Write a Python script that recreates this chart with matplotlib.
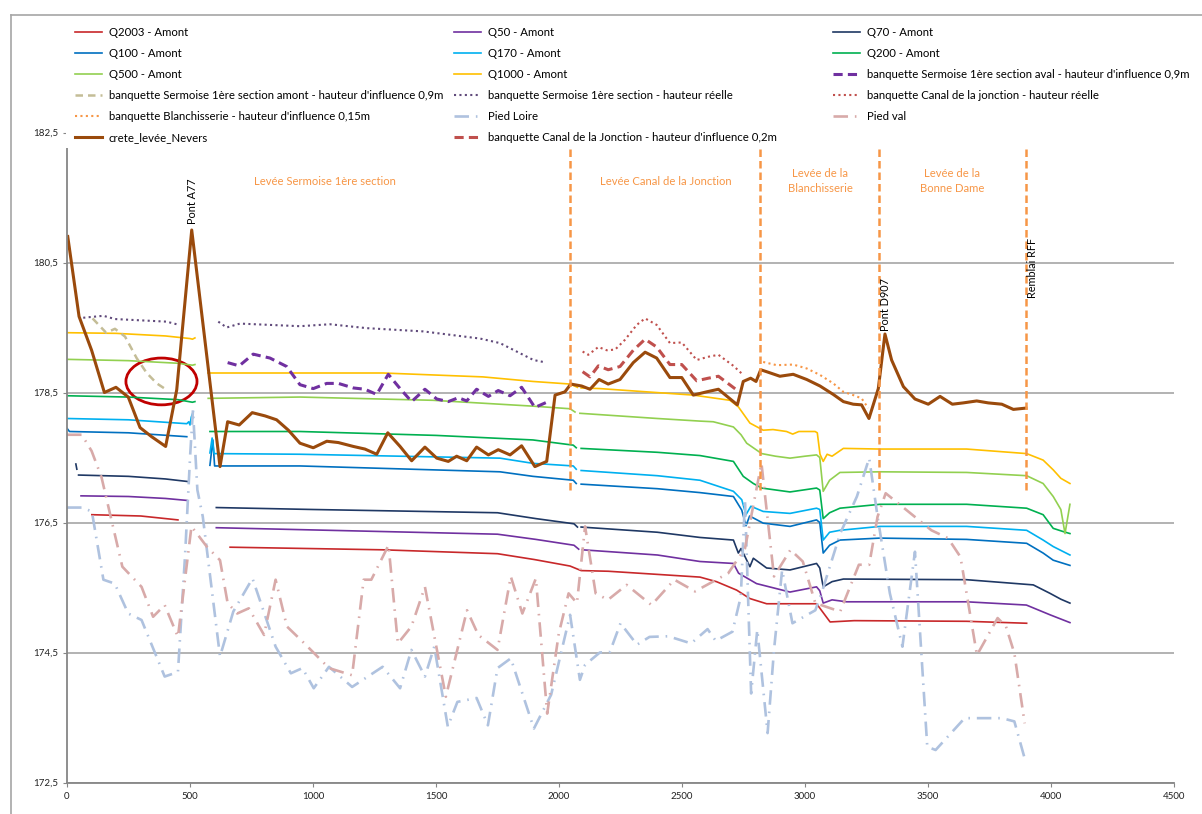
import numpy as np
import matplotlib
matplotlib.use("Agg")
import matplotlib.pyplot as plt
from matplotlib.lines import Line2D
from matplotlib.patches import Ellipse, Rectangle
from matplotlib.ticker import MultipleLocator, FuncFormatter

plt.rcParams['font.family'] = ['Lato', 'DejaVu Sans']
nan = np.nan

# --- débits (lignes d'eau), x = distance (m), y = cote (m NGF) ---
q2003_x = [101, 300, 451, nan, 663, 1283, 1750, 1900, 2045, 2090, 2200, 2573, 2640, 2722, 2776, 2844, 3047, 3102, 3200, 3657, 3901]
q2003_y = [176.62, 176.60, 176.54, nan, 176.12, 176.08, 176.02, 175.93, 175.83, 175.76, 175.75, 175.66, 175.59, 175.46, 175.33, 175.25, 175.25, 174.97, 174.99, 174.98, 174.95]

q50_x = [57, 250, 400, 487, nan, 607, 1750, 1906, 2061, 2080, nan, 2095, 2400, 2573, 2709, 2730, 2803, 2939, 3047, 3060, 3074, 3110, 3169, 3657, 3900, 3996, 4077]
q50_y = [176.91, 176.90, 176.87, 176.84, nan, 176.42, 176.32, 176.24, 176.15, 176.09, nan, 176.08, 176.00, 175.90, 175.87, 175.72, 175.56, 175.43, 175.51, 175.45, 175.26, 175.31, 175.28, 175.28, 175.23, 175.08, 174.96]

q70_x = [36, 40, nan, 47, 250, 400, 492, nan, 607, 1000, 1750, 1906, 2061, 2075, nan, 2090, 2400, 2573, 2709, 2729, 2740, 2776, 2790, 2844, 2939, 3047, 3060, 3074, 3110, 3156, 3657, 3928, 3996, 4040, 4077]
q70_y = [177.40, 177.32, nan, 177.23, 177.21, 177.17, 177.13, nan, 176.73, 176.70, 176.65, 176.56, 176.48, 176.43, nan, 176.43, 176.35, 176.27, 176.23, 176.03, 176.10, 175.82, 175.95, 175.80, 175.77, 175.87, 175.80, 175.51, 175.59, 175.63, 175.62, 175.54, 175.41, 175.32, 175.26]

q100_x = [0, 10, 250, 487, nan, 581, 593, 600, 947, 1760, 1894, 2058, 2070, nan, 2090, 2400, 2573, 2709, 2743, 2760, 2775, 2830, 2939, 3047, 3060, 3074, 3100, 3142, 3305, 3657, 3901, 3968, 4009, 4077]
q100_y = [177.95, 177.90, 177.88, 177.82, nan, 177.38, 177.77, 177.37, 177.37, 177.28, 177.21, 177.15, 177.10, nan, 177.09, 177.02, 176.96, 176.90, 176.69, 176.45, 176.60, 176.49, 176.44, 176.54, 176.50, 176.03, 176.15, 176.23, 176.26, 176.24, 176.18, 176.03, 175.92, 175.84]

q170_x = [0, 250, 487, 495, 500, 505, 513, nan, 581, 590, 598, 947, 1760, 1894, 2058, 2070, nan, 2090, 2400, 2573, 2709, 2743, 2760, 2780, 2830, 2939, 3047, 3060, 3074, 3100, 3142, 3305, 3657, 3901, 3968, 4009, 4077]
q170_y = [178.10, 178.08, 178.02, 178.05, 178.00, 178.12, 178.20, nan, 177.57, 177.80, 177.56, 177.55, 177.49, 177.41, 177.37, 177.32, nan, 177.30, 177.22, 177.15, 176.98, 176.85, 176.62, 176.75, 176.67, 176.64, 176.72, 176.70, 176.23, 176.35, 176.38, 176.44, 176.44, 176.38, 176.23, 176.13, 176.00]

q200_x = [0, 250, 450, 510, 520, nan, 581, 947, 1500, 1894, 2058, 2070, nan, 2090, 2400, 2573, 2709, 2749, 2790, 2824, 2939, 3047, 3060, 3074, 3100, 3142, 3305, 3657, 3901, 3968, 4009, 4050, 4077]
q200_y = [178.45, 178.43, 178.39, 178.35, 178.36, nan, 177.90, 177.90, 177.84, 177.77, 177.69, 177.65, nan, 177.64, 177.58, 177.53, 177.44, 177.21, 177.10, 177.03, 176.97, 177.03, 177.00, 176.56, 176.65, 176.72, 176.78, 176.78, 176.72, 176.62, 176.41, 176.36, 176.33]

q500_x = [0, 250, 450, 510, 520, nan, 574, 947, 1488, 1894, 2045, 2065, nan, 2085, 2400, 2573, 2627, 2709, 2740, 2763, 2824, 2880, 2939, 3000, 3047, 3060, 3074, 3100, 3142, 3305, 3657, 3901, 3968, 4009, 4040, 4057, 4077]
q500_y = [179.01, 178.99, 178.95, 178.92, 178.93, nan, 178.41, 178.43, 178.38, 178.29, 178.25, 178.20, nan, 178.18, 178.10, 178.06, 178.05, 177.97, 177.85, 177.72, 177.56, 177.52, 177.49, 177.52, 177.54, 177.50, 176.98, 177.15, 177.27, 177.28, 177.27, 177.22, 177.10, 176.90, 176.70, 176.33, 176.78]

q1000_x = [0, 200, 400, 500, 510, 520, nan, 573, 947, 1285, 1691, 1894, 2045, 2075, nan, 2090, 2167, 2546, 2695, 2729, 2776, 2830, 2870, 2925, 2950, 2975, 3041, 3050, 3061, 3074, 3090, 3110, 3156, 3305, 3657, 3901, 3968, 4009, 4040, 4077]
q1000_y = [179.42, 179.41, 179.37, 179.33, 179.32, 179.34, nan, 178.80, 178.80, 178.80, 178.74, 178.67, 178.63, 178.58, nan, 178.57, 178.56, 178.46, 178.38, 178.28, 178.03, 177.92, 177.93, 177.90, 177.86, 177.90, 177.90, 177.88, 177.55, 177.44, 177.55, 177.52, 177.64, 177.63, 177.63, 177.56, 177.46, 177.31, 177.18, 177.10]

# --- banquettes ---
banq_aval_x = [653, 700, 757, 825, 893, 947, 1001, 1056, 1103, 1164, 1211, 1259, 1306, 1354, 1401, 1455, 1503, 1550, 1591, 1625, 1665, 1713, 1753, 1801, 1848, 1902, 1950]
banq_aval_y = [178.96, 178.91, 179.09, 179.03, 178.90, 178.62, 178.56, 178.64, 178.64, 178.57, 178.55, 178.47, 178.78, 178.56, 178.36, 178.55, 178.40, 178.36, 178.42, 178.37, 178.55, 178.44, 178.53, 178.45, 178.58, 178.27, 178.35]

banq_amont_x = [104, 159, 195, 236, 283, 324, 365, 401]
banq_amont_y = [179.64, 179.42, 179.48, 179.36, 179.03, 178.80, 178.64, 178.55]

banq_reelle_x = [66, 148, 195, 405, 446, nan, 615, 649, 703, 947, 1069, 1218, 1448, 1679, 1760, 1896, 1936]
banq_reelle_y = [179.65, 179.68, 179.63, 179.59, 179.55, nan, 179.59, 179.50, 179.56, 179.52, 179.55, 179.49, 179.44, 179.33, 179.26, 179.00, 178.97]

canal_reelle_x = [2096, 2119, 2160, 2194, 2228, 2268, 2316, 2350, 2397, 2451, 2499, 2560, 2607, 2648, 2709, 2749]
canal_reelle_y = [179.13, 179.08, 179.20, 179.15, 179.16, 179.31, 179.54, 179.64, 179.54, 179.26, 179.27, 179.00, 179.05, 179.08, 178.91, 178.77]

canal_infl_x = [2096, 2126, 2160, 2200, 2248, 2302, 2350, 2397, 2451, 2499, 2560, 2607, 2648, 2722]
canal_infl_y = [178.82, 178.74, 178.91, 178.85, 178.90, 179.15, 179.32, 179.20, 178.93, 178.93, 178.68, 178.72, 178.75, 178.54]

blanch_x = [2830, 2885, 2952, 3007, 3061, 3115, 3156, 3196, 3230, 3257]
blanch_y = [178.97, 178.92, 178.93, 178.87, 178.77, 178.64, 178.51, 178.46, 178.41, 178.26]

# --- pieds de digue ---
pied_loire_x = [0, 60, 101, 148, 194, 249, 303, 397, 451, 480, 501, 512, 530, 552, 622, 676, 754, 848, 910, 957, 1003, 1065, 1159, 1283, 1354, 1400, 1455, 1493, 1548, 1587, 1665, 1711, 1750, 1804, 1898, 1968, 2045, 2085, 2106, 2166, 2207, 2250, 2317, 2368, 2444, 2537, 2604, 2637, 2705, 2739, 2756, 2781, 2806, 2848, 2874, 2907, 2949, 3042, 3067, 3143, 3211, 3261, 3295, 3345, 3396, 3447, 3497, 3531, 3649, 3800, 3851, 3893]
pied_loire_y = [176.73, 176.73, 176.67, 175.62, 175.56, 175.10, 175.00, 174.13, 174.20, 176.00, 177.56, 178.23, 177.00, 176.59, 174.44, 175.13, 175.64, 174.59, 174.18, 174.26, 173.95, 174.28, 173.97, 174.28, 173.95, 174.54, 174.13, 174.59, 173.36, 173.74, 173.80, 173.38, 174.26, 174.41, 173.33, 173.85, 175.08, 174.08, 174.31, 174.50, 174.51, 174.95, 174.62, 174.74, 174.75, 174.64, 174.86, 174.68, 174.82, 175.36, 176.85, 173.87, 174.85, 173.26, 174.54, 175.77, 174.95, 175.15, 175.41, 176.33, 176.90, 177.49, 176.59, 175.41, 174.59, 176.05, 173.05, 173.00, 173.49, 173.49, 173.44, 172.87]

pied_val_x = [0, 60, 100, 140, 225, 303, 350, 397, 451, 506, 568, 622, 653, 692, 739, 801, 848, 894, 957, 1065, 1159, 1206, 1237, 1307, 1345, 1400, 1455, 1540, 1626, 1672, 1750, 1804, 1851, 1906, 1952, 1999, 2039, 2073, 2106, 2149, 2199, 2275, 2376, 2469, 2553, 2688, 2756, 2823, 2874, 2941, 2991, 3042, 3143, 3219, 3261, 3295, 3328, 3413, 3514, 3581, 3632, 3699, 3783, 3817, 3851, 3893]
pied_val_y = [177.85, 177.85, 177.60, 177.20, 175.82, 175.51, 175.05, 175.23, 174.74, 176.44, 176.13, 175.92, 175.26, 175.10, 175.18, 174.77, 175.62, 174.90, 174.67, 174.26, 174.15, 175.62, 175.62, 176.15, 174.64, 174.90, 175.51, 173.82, 175.15, 174.77, 174.54, 175.67, 175.10, 175.64, 173.56, 174.79, 175.41, 175.26, 176.44, 175.41, 175.31, 175.54, 175.23, 175.62, 175.44, 175.72, 176.10, 177.41, 175.67, 176.08, 175.90, 175.26, 175.13, 175.85, 175.85, 176.59, 176.95, 176.69, 176.38, 176.26, 175.97, 174.46, 175.03, 174.90, 174.49, 173.41]

# --- crête de levée ---
crete_x = [3, 49, 100, 152, 199, 249, 297, 344, 401, 446, 507, 622, 653, 700, 753, 805, 852, 900, 947, 1001, 1056, 1103, 1164, 1211, 1259, 1304, 1354, 1401, 1455, 1503, 1550, 1584, 1625, 1665, 1713, 1753, 1801, 1848, 1902, 1950, 1984, 2024, 2048, 2092, 2126, 2163, 2200, 2248, 2302, 2350, 2397, 2451, 2499, 2546, 2600, 2648, 2725, 2749, 2779, 2801, 2820, 2844, 2898, 2952, 3007, 3061, 3115, 3156, 3196, 3230, 3260, 3298, 3325, 3352, 3400, 3447, 3501, 3549, 3599, 3643, 3698, 3745, 3800, 3847, 3898]
crete_y = [180.90, 179.67, 179.15, 178.50, 178.58, 178.43, 177.96, 177.82, 177.67, 178.54, 181.00, 177.36, 178.05, 178.00, 178.19, 178.14, 178.08, 177.92, 177.72, 177.65, 177.75, 177.73, 177.67, 177.63, 177.55, 177.88, 177.67, 177.45, 177.66, 177.49, 177.44, 177.52, 177.45, 177.66, 177.54, 177.62, 177.54, 177.68, 177.36, 177.44, 178.46, 178.51, 178.63, 178.60, 178.55, 178.70, 178.63, 178.70, 178.96, 179.12, 179.03, 178.73, 178.73, 178.46, 178.51, 178.55, 178.31, 178.67, 178.72, 178.67, 178.85, 178.82, 178.75, 178.78, 178.70, 178.60, 178.47, 178.36, 178.32, 178.31, 178.10, 178.56, 179.40, 179.00, 178.59, 178.40, 178.32, 178.44, 178.32, 178.34, 178.37, 178.34, 178.32, 178.24, 178.26]

# limites de tronçons
sections_x = [2046, 2819, 3300, 3898]
section_names = ["Levée Sermoise 1ère section", "Levée Canal de la Jonction",
                 "Levée de la\nBlanchisserie", "Levée de la\nBonne Dame"]
section_name_x = [1049, 2435, 3061, 3598]
ouvrages = ["Pont A77", "Pont D907", "Remblai RFF"]
ouvrages_x = [510, 3328, 3923]
ouvrages_y = [181.1, 179.45, 179.95]

W, H = 1202, 814
fig = plt.figure(figsize=(W / 100, H / 100), dpi=100)
y_top = 184.0
ax = fig.add_axes([67 / W, 31.5 / H, (1174 - 67) / W, (y_top - 172.5) * 65 / H])
ax.set_xlim(0, 4500)
ax.set_ylim(172.5, y_top)

pied_dash = (5.5, 2.6, 0.6, 2.6)
dot = (1, 1.6)
lines = {}
def plot(label, x, y, **kw):
    lines[label], = ax.plot(x, y, label=label, **kw)

qw = 1.2
plot("Q2003 - Amont", q2003_x, q2003_y, color="#C8282A", lw=qw)
plot("Q50 - Amont", q50_x, q50_y, color="#7030A0", lw=qw)
plot("Q70 - Amont", q70_x, q70_y, color="#1F3864", lw=qw)
plot("Q100 - Amont", q100_x, q100_y, color="#0070C0", lw=qw)
plot("Q170 - Amont", q170_x, q170_y, color="#00B0F0", lw=qw)
plot("Q200 - Amont", q200_x, q200_y, color="#00B050", lw=qw)
plot("Q500 - Amont", q500_x, q500_y, color="#92D050", lw=qw)
plot("Q1000 - Amont", q1000_x, q1000_y, color="#FFC000", lw=qw)
plot("Pied Loire", pied_loire_x, pied_loire_y, color="#AFC2DF", lw=1.9, dashes=pied_dash)
plot("Pied val", pied_val_x, pied_val_y, color="#D8AAA9", lw=1.9, dashes=pied_dash)
plot("banquette Sermoise 1ère section aval - hauteur d'influence 0,9m", banq_aval_x, banq_aval_y,
     color="#7030A0", lw=2.2, dashes=(3, 1.7))
plot("banquette Sermoise 1ère section amont - hauteur d'influence 0,9m", banq_amont_x, banq_amont_y,
     color="#C4BD97", lw=1.8, dashes=(3, 2))
plot("banquette Sermoise 1ère section - hauteur réelle", banq_reelle_x, banq_reelle_y,
     color="#604A7B", lw=1.5, dashes=dot)
plot("banquette Canal de la jonction - hauteur réelle", canal_reelle_x, canal_reelle_y,
     color="#C0504D", lw=1.5, dashes=dot)
plot("banquette Blanchisserie - hauteur d'influence 0,15m", blanch_x, blanch_y,
     color="#F79646", lw=1.5, dashes=dot)
plot("banquette Canal de la Jonction - hauteur d'influence 0,2m", canal_infl_x, canal_infl_y,
     color="#C0504D", lw=2.2, dashes=(3, 1.7))
plot("crete_levée_Nevers", crete_x, crete_y, color="#9A4A0C", lw=2.2)

for sx in sections_x:
    ax.plot([sx, sx], [177.0, 182.25], color="#F79646", lw=1.8, dashes=(3, 1.6))
for name, nx in zip(section_names, section_name_x):
    ax.text(nx, 181.75, name, color="#F79646", ha="center", va="center",
            fontsize=8.1, multialignment="center", linespacing=1.45)
for name, ox, oy in zip(ouvrages, ouvrages_x, ouvrages_y):
    ax.text(ox, oy, name, rotation=90, ha="center", va="bottom", fontsize=7.8, color="black")

ax.add_patch(Ellipse((384, 178.67), 289, 0.72, fill=False, edgecolor="#C00000", lw=2))

# axes à la Excel
for s in ["top", "right"]:
    ax.spines[s].set_visible(False)
for s in ["left", "bottom"]:
    ax.spines[s].set_color("#868686")
    ax.spines[s].set_linewidth(1.3)
ax.xaxis.set_major_locator(MultipleLocator(500))
ax.set_yticks([172.5, 174.5, 176.5, 178.5, 180.5, 182.5])
ax.yaxis.set_major_formatter(FuncFormatter(lambda v, p: f"{v:.1f}".replace(".", ",")))
ax.tick_params(direction="out", length=3, color="#868686", labelsize=7, labelcolor="#222222")
ax.grid(axis="y", color="#A6A6A6", lw=1.2)
ax.set_axisbelow(True)

# fond blanc de la légende
ax.add_patch(Rectangle((66 / W, 1 - 148 / H), 1, (148 - 17) / H, transform=fig.transFigure,
                       facecolor="white", edgecolor="none", clip_on=False, zorder=4))

legend_cols = [
    ["Q2003 - Amont", "Q100 - Amont", "Q500 - Amont",
     "banquette Sermoise 1ère section amont - hauteur d'influence 0,9m",
     "banquette Blanchisserie - hauteur d'influence 0,15m", "crete_levée_Nevers"],
    ["Q50 - Amont", "Q170 - Amont", "Q1000 - Amont",
     "banquette Sermoise 1ère section - hauteur réelle", "Pied Loire",
     "banquette Canal de la Jonction - hauteur d'influence 0,2m"],
    ["Q70 - Amont", "Q200 - Amont",
     "banquette Sermoise 1ère section aval - hauteur d'influence 0,9m",
     "banquette Canal de la jonction - hauteur réelle", "Pied val"],
]
legend_x = [75, 454, 833]
legs = []
for labels, lx in zip(legend_cols, legend_x):
    leg = ax.legend([lines[l] for l in labels], labels, loc="upper left",
                    bbox_to_anchor=(lx / W, 1 - 27 / H), bbox_transform=fig.transFigure,
                    frameon=False, borderpad=0, borderaxespad=0, handlelength=2.4,
                    handletextpad=0.55, labelspacing=0.88, fontsize=8.2)
    legs.append(leg)
for leg in legs[:-1]:
    ax.add_artist(leg)

# cadre du graphique
fig.add_artist(Line2D([11 / W, 11 / W], [0, 1 - 15 / H], color="#A6A6A6", lw=1.2))
fig.add_artist(Line2D([11 / W, 1], [1 - 15 / H, 1 - 15 / H], color="#A6A6A6", lw=1.2))

fig.savefig("out.png", dpi=100)
